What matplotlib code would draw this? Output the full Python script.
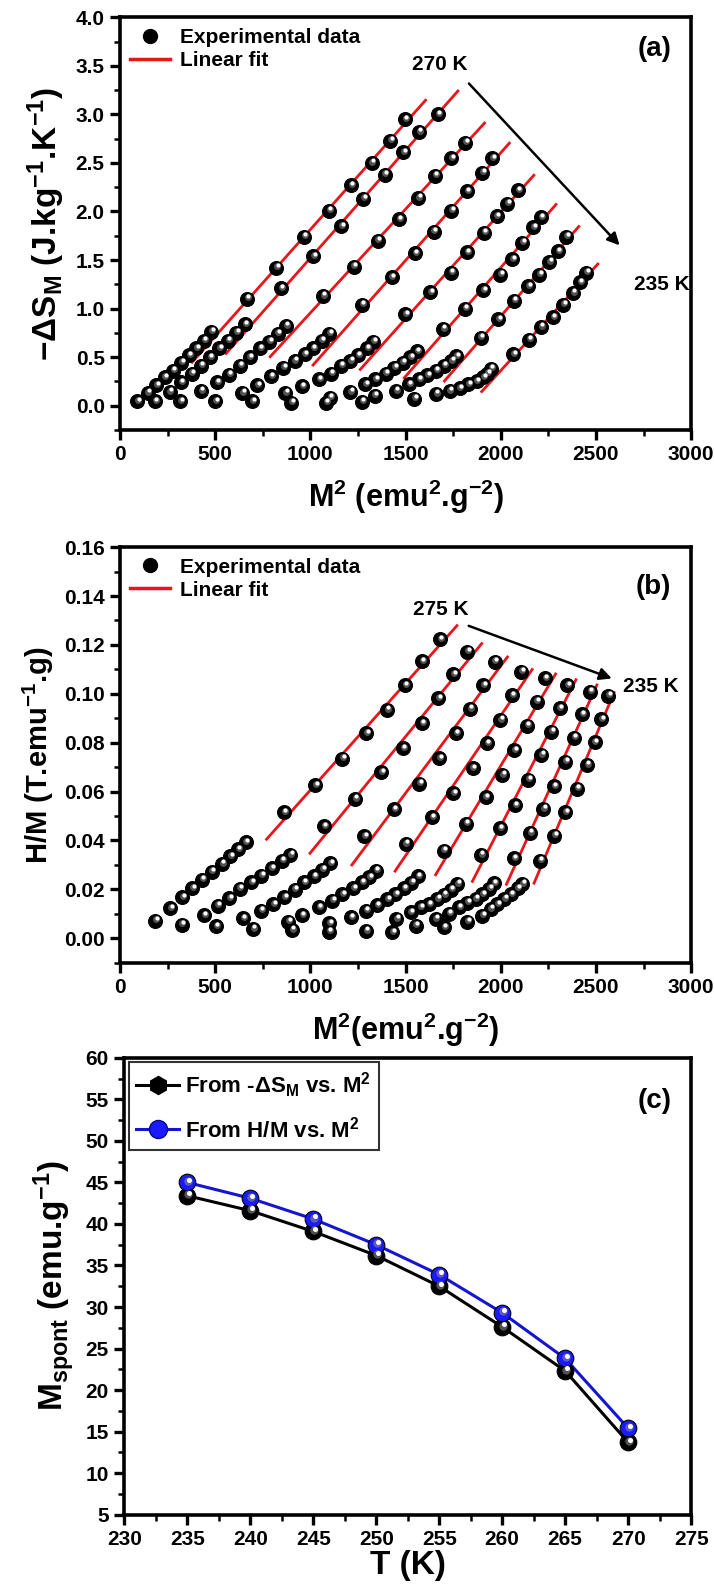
import numpy as np
import matplotlib
matplotlib.use("Agg")
import matplotlib.pyplot as plt
from matplotlib.lines import Line2D
from matplotlib.ticker import MultipleLocator, FormatStrFormatter
from matplotlib.transforms import ScaledTranslation

plt.rcParams["font.family"] = ["Liberation Sans Narrow", "Liberation Sans", "DejaVu Sans"]
plt.rcParams["font.weight"] = "bold"
plt.rcParams["axes.labelweight"] = "bold"
plt.rcParams["mathtext.fontset"] = "custom"
plt.rcParams["mathtext.rm"] = "Liberation Sans"
plt.rcParams["mathtext.bf"] = "Liberation Sans:bold"
plt.rcParams["mathtext.default"] = "bf"

# ---------------- (a) -dS_M vs M^2, 270 K -> 235 K ----------------
A_LOW_X = [
    [92, 145, 190, 234, 278, 323, 362, 402, 441, 479],
    [184, 261, 319, 376, 426, 473, 521, 567, 612, 656],
    [317, 424, 509, 571, 629, 681, 736, 784, 828, 872],
    [500, 642, 722, 793, 858, 917, 970, 1014, 1059, 1099],
    [695, 869, 956, 1046, 1109, 1160, 1209, 1250, 1298, 1330],
    [899, 1103, 1209, 1289, 1342, 1395, 1440, 1484, 1525, 1560],
    [1082, 1271, 1337, 1449, 1518, 1571, 1615, 1660, 1701, 1740, 1766],
    [1546, 1660, 1731, 1784, 1829, 1873, 1909, 1929, 1949],
]
A_LOW_Y = [
    [0.045, 0.13, 0.21, 0.29, 0.36, 0.44, 0.52, 0.59, 0.67, 0.76],
    [0.045, 0.14, 0.24, 0.33, 0.41, 0.50, 0.59, 0.67, 0.75, 0.84],
    [0.045, 0.15, 0.24, 0.32, 0.41, 0.50, 0.59, 0.66, 0.74, 0.82],
    [0.045, 0.13, 0.21, 0.30, 0.39, 0.46, 0.53, 0.59, 0.67, 0.74],
    [0.045, 0.13, 0.20, 0.27, 0.33, 0.41, 0.46, 0.52, 0.59, 0.66],
    [0.03, 0.08, 0.14, 0.22, 0.27, 0.33, 0.39, 0.44, 0.50, 0.56],
    [0.03, 0.04, 0.10, 0.15, 0.22, 0.27, 0.31, 0.36, 0.41, 0.46, 0.51],
    [0.07, 0.12, 0.15, 0.18, 0.22, 0.25, 0.29, 0.33, 0.38],
]
A_HIGH_X = [
    [666, 822, 967, 1097, 1213, 1322, 1419, 1496],
    [846, 1016, 1162, 1278, 1390, 1489, 1569, 1671],
    [1067, 1227, 1353, 1465, 1567, 1653, 1741, 1813],
    [1271, 1427, 1550, 1647, 1741, 1823, 1904, 1956],
    [1498, 1631, 1737, 1823, 1911, 1978, 2035, 2090],
    [1695, 1811, 1909, 1997, 2060, 2113, 2170, 2211],
    [1894, 1988, 2068, 2145, 2202, 2255, 2299, 2344],
    [2065, 2148, 2211, 2273, 2329, 2379, 2415, 2450],
]
A_HIGH_Y = [
    [1.10, 1.42, 1.74, 2.01, 2.27, 2.50, 2.73, 2.95],
    [1.21, 1.54, 1.85, 2.13, 2.38, 2.61, 2.82, 3.00],
    [1.13, 1.43, 1.70, 1.92, 2.14, 2.37, 2.55, 2.71],
    [1.04, 1.32, 1.57, 1.79, 2.01, 2.21, 2.40, 2.55],
    [0.94, 1.17, 1.37, 1.58, 1.78, 1.95, 2.08, 2.22],
    [0.79, 1.00, 1.19, 1.35, 1.51, 1.68, 1.84, 1.94],
    [0.70, 0.89, 1.08, 1.23, 1.35, 1.48, 1.59, 1.74],
    [0.53, 0.68, 0.81, 0.91, 1.04, 1.16, 1.27, 1.37],
]
A_FIT_START = [379, 557, 789, 1014, 1262, 1493, 1704, 1900]
A_FIT_END = [1605, 1775, 1915, 2045, 2174, 2290, 2410, 2510]

# ---------------- (b) H/M vs M^2, 275 K -> 235 K ----------------
B_LOW_X = [
    [186, 265, 327, 381, 430, 481, 535, 580, 620, 660],
    [324, 442, 513, 575, 628, 690, 743, 796, 850, 894],
    [504, 646, 740, 805, 864, 917, 965, 1018, 1062, 1105],
    [699, 885, 956, 1044, 1115, 1168, 1225, 1271, 1310, 1345],
    [903, 1100, 1212, 1292, 1350, 1404, 1447, 1491, 1530, 1565],
    [1097, 1292, 1451, 1526, 1579, 1623, 1667, 1702, 1737, 1772],
    [1430, 1553, 1658, 1728, 1781, 1825, 1868, 1904, 1939, 1965],
    [1702, 1825, 1904, 1947, 1982, 2018, 2053, 2088, 2114],
]
B_LOW_Y = [
    [0.0072, 0.0123, 0.0168, 0.0204, 0.0239, 0.0273, 0.0304, 0.0335, 0.0365, 0.0393],
    [0.0055, 0.0095, 0.0134, 0.0164, 0.0202, 0.0229, 0.0256, 0.0286, 0.0318, 0.0341],
    [0.0049, 0.0082, 0.0113, 0.0140, 0.0168, 0.0199, 0.0229, 0.0254, 0.0281, 0.0306],
    [0.0038, 0.0068, 0.0095, 0.0127, 0.0154, 0.0181, 0.0204, 0.0229, 0.0249, 0.0277],
    [0.0034, 0.0062, 0.0086, 0.0113, 0.0135, 0.0160, 0.0180, 0.0205, 0.0228, 0.0254],
    [0.0027, 0.0030, 0.0079, 0.0106, 0.0127, 0.0140, 0.0161, 0.0177, 0.0199, 0.0222],
    [0.0025, 0.0052, 0.0079, 0.0100, 0.0127, 0.0145, 0.0161, 0.0181, 0.0202, 0.0225],
    [0.0045, 0.0068, 0.0093, 0.0120, 0.0140, 0.0161, 0.0181, 0.0204, 0.0222],
]
B_HIGH_X = [
    [862, 1025, 1167, 1294, 1402, 1497, 1585, 1680],
    [1070, 1235, 1373, 1487, 1585, 1672, 1750, 1825],
    [1283, 1438, 1572, 1677, 1764, 1838, 1908, 1968],
    [1500, 1638, 1750, 1852, 1928, 1998, 2058, 2108],
    [1700, 1817, 1920, 2008, 2072, 2138, 2188, 2232],
    [1895, 1995, 2075, 2144, 2212, 2265, 2309, 2349],
    [2070, 2153, 2223, 2280, 2339, 2385, 2425, 2469],
    [2205, 2281, 2339, 2400, 2453, 2493, 2529, 2565],
]
B_HIGH_Y = [
    [0.0516, 0.0627, 0.0734, 0.0839, 0.0934, 0.1036, 0.1134, 0.1224],
    [0.0458, 0.0570, 0.0679, 0.0777, 0.0879, 0.0982, 0.1080, 0.1173],
    [0.0417, 0.0527, 0.0632, 0.0736, 0.0839, 0.0938, 0.1036, 0.1132],
    [0.0386, 0.0495, 0.0594, 0.0695, 0.0798, 0.0893, 0.0995, 0.1091],
    [0.0359, 0.0468, 0.0577, 0.0668, 0.0770, 0.0870, 0.0968, 0.1064],
    [0.0341, 0.0450, 0.0545, 0.0648, 0.0750, 0.0845, 0.0941, 0.1036],
    [0.0327, 0.0431, 0.0529, 0.0622, 0.0723, 0.0821, 0.0916, 0.1009],
    [0.0318, 0.0420, 0.0515, 0.0612, 0.0709, 0.0802, 0.0897, 0.0993],
]
B_FIT_START = [770, 998, 1218, 1445, 1658, 1851, 2030, 2175]
B_FIT_END = [1770, 1900, 2035, 2165, 2288, 2395, 2505, 2595]

# ---------------- (c) spontaneous magnetisation ----------------
T_K = [235, 240, 245, 250, 255, 260, 265, 270]
M_FROM_DS = [43.4, 41.6, 39.1, 36.2, 32.5, 27.6, 22.3, 13.7]
M_FROM_HM = [45.0, 43.1, 40.6, 37.5, 33.9, 29.3, 23.8, 15.4]

FIT_RED = "#e8151b"
TICK_FS = 15
LABEL_FS = 22


def balls(ax, x, y, color="black", size=10):
    """Shaded sphere markers: dark ball + offset highlight."""
    fig = ax.figure
    ax.plot(x, y, "o", ls="none", ms=size, mfc=color, mec="black", mew=0.8, zorder=3)
    off1 = ScaledTranslation(0.6 / 72, 1.0 / 72, fig.dpi_scale_trans)
    ax.plot(x, y, "o", ls="none", ms=size * 0.5, mfc="#8a8a8a", mec="none",
            alpha=0.6, transform=ax.transData + off1, zorder=4)
    off2 = ScaledTranslation(1.0 / 72, 1.8 / 72, fig.dpi_scale_trans)
    ax.plot(x, y, "o", ls="none", ms=size * 0.3, mfc="white", mec="none",
            transform=ax.transData + off2, zorder=5)


def style_axes(ax, xmaj, xmin, ymaj, ymin, yfmt):
    for s in ax.spines.values():
        s.set_linewidth(2.6)
    ax.xaxis.set_major_locator(MultipleLocator(xmaj))
    ax.xaxis.set_minor_locator(MultipleLocator(xmin))
    ax.yaxis.set_major_locator(MultipleLocator(ymaj))
    ax.yaxis.set_minor_locator(MultipleLocator(ymin))
    ax.yaxis.set_major_formatter(FormatStrFormatter(yfmt))
    ax.tick_params(which="both", direction="out", top=False, right=False,
                   labelsize=TICK_FS, pad=4)
    ax.tick_params(which="major", length=7, width=2.4)
    ax.tick_params(which="minor", length=4, width=1.8)


def fit_panel(ax, low_x, low_y, high_x, high_y, fit_start, fit_end):
    for lx, ly, hx, hy, x0, x1 in zip(low_x, low_y, high_x, high_y, fit_start, fit_end):
        k, b = np.polyfit(hx, hy, 1)
        xs = np.array([x0, x1])
        ax.plot(xs, k * xs + b, color=FIT_RED, lw=2.0, zorder=2)
        balls(ax, list(lx) + list(hx), list(ly) + list(hy))


def fit_legend(ax):
    handles = [
        Line2D([], [], marker="o", ls="none", ms=10, mfc="black", mec="black"),
        Line2D([], [], color=FIT_RED, lw=2.5),
    ]
    ax.legend(handles, ["Experimental data", "Linear fit"], loc="upper left",
              frameon=False, fontsize=15, handlelength=1.9, handletextpad=0.5,
              borderaxespad=0.2, labelspacing=0.2, borderpad=0.3)


fig = plt.figure(figsize=(7.14, 15.86), dpi=100)

# ---- (a) ----
ax1 = fig.add_axes([0.168, 0.729, 0.800, 0.260])
fit_panel(ax1, A_LOW_X, A_LOW_Y, A_HIGH_X, A_HIGH_Y, A_FIT_START, A_FIT_END)
ax1.set_xlim(0, 3000)
ax1.set_ylim(-0.25, 4.0)
style_axes(ax1, 500, 250, 0.5, 0.25, "%.1f")
ax1.set_xlabel(r"M$^2$ (emu$^2$.g$^{-2}$)", fontsize=LABEL_FS, family="Liberation Sans",
               labelpad=10)
ax1.set_ylabel(r"$-\Delta S_M$ (J.kg$^{-1}$.K$^{-1}$)", fontsize=LABEL_FS + 2,
               family="Liberation Sans", labelpad=6)
fit_legend(ax1)
ax1.text(0.965, 0.955, "(a)", transform=ax1.transAxes, ha="right", va="top", fontsize=20)
ax1.annotate("", xy=(2634, 1.63), xytext=(1823, 3.34),
             arrowprops=dict(arrowstyle="-|>", color="black", lw=1.8, mutation_scale=18))
ax1.text(1680, 3.52, "270 K", ha="center", va="center", fontsize=15)
ax1.text(2700, 1.25, "235 K", ha="left", va="center", fontsize=15)

# ---- (b) ----
ax2 = fig.add_axes([0.168, 0.393, 0.800, 0.262])
fit_panel(ax2, B_LOW_X, B_LOW_Y, B_HIGH_X, B_HIGH_Y, B_FIT_START, B_FIT_END)
ax2.set_xlim(0, 3000)
ax2.set_ylim(-0.01, 0.16)
style_axes(ax2, 500, 250, 0.02, 0.01, "%.2f")
ax2.set_xlabel(r"M$^2$(emu$^2$.g$^{-2}$)", fontsize=LABEL_FS, family="Liberation Sans",
               labelpad=10)
ax2.set_ylabel(r"H/M (T.emu$^{-1}$.g)", fontsize=LABEL_FS - 1, family="Liberation Sans",
               labelpad=6)
fit_legend(ax2)
ax2.text(0.965, 0.935, "(b)", transform=ax2.transAxes, ha="right", va="top", fontsize=20)
ax2.annotate("", xy=(2597, 0.1059), xytext=(1818, 0.1282),
             arrowprops=dict(arrowstyle="-|>", color="black", lw=1.8, mutation_scale=18))
ax2.text(1686, 0.1345, "275 K", ha="center", va="center", fontsize=15)
ax2.text(2790, 0.1030, "235 K", ha="center", va="center", fontsize=15)

# ---- (c) ----
ax3 = fig.add_axes([0.174, 0.045, 0.794, 0.288])
ax3.plot(T_K, M_FROM_DS, color="black", lw=2.2, zorder=2)
balls(ax3, T_K, M_FROM_DS, color="black", size=12)
ax3.plot(T_K, M_FROM_HM, color="#1515d0", lw=2.2, zorder=2)
balls(ax3, T_K, M_FROM_HM, color="#1a1aff", size=12)
ax3.set_xlim(230, 275)
ax3.set_ylim(5, 60)
style_axes(ax3, 5, 2.5, 5, 2.5, "%d")
ax3.set_xlabel("T (K)", fontsize=LABEL_FS + 2, family="Liberation Sans", labelpad=1)
ax3.set_ylabel(r"M$_{spont}$ (emu.g$^{-1}$)", fontsize=LABEL_FS + 2,
               family="Liberation Sans", labelpad=6)
h1 = Line2D([], [], color="black", lw=2.2, marker="h", ms=13, mfc="black", mec="black")
h2 = Line2D([], [], color="#1515d0", lw=2.2, marker="o", ms=13, mfc="#1a1aff", mec="#0a0a80")
leg = ax3.legend([h1, h2], [r"From -$\Delta$S$_M$ vs. M$^2$", r"From H/M vs. M$^2$"],
                 loc="upper left", fontsize=16, frameon=True, fancybox=False,
                 edgecolor="black", handlelength=1.9, handletextpad=0.3,
                 borderaxespad=0.2, borderpad=0.35, labelspacing=0.75)
leg.get_frame().set_linewidth(1.5)
ax3.text(0.965, 0.935, "(c)", transform=ax3.transAxes, ha="right", va="top", fontsize=20)

fig.savefig("out.png", dpi=100)
